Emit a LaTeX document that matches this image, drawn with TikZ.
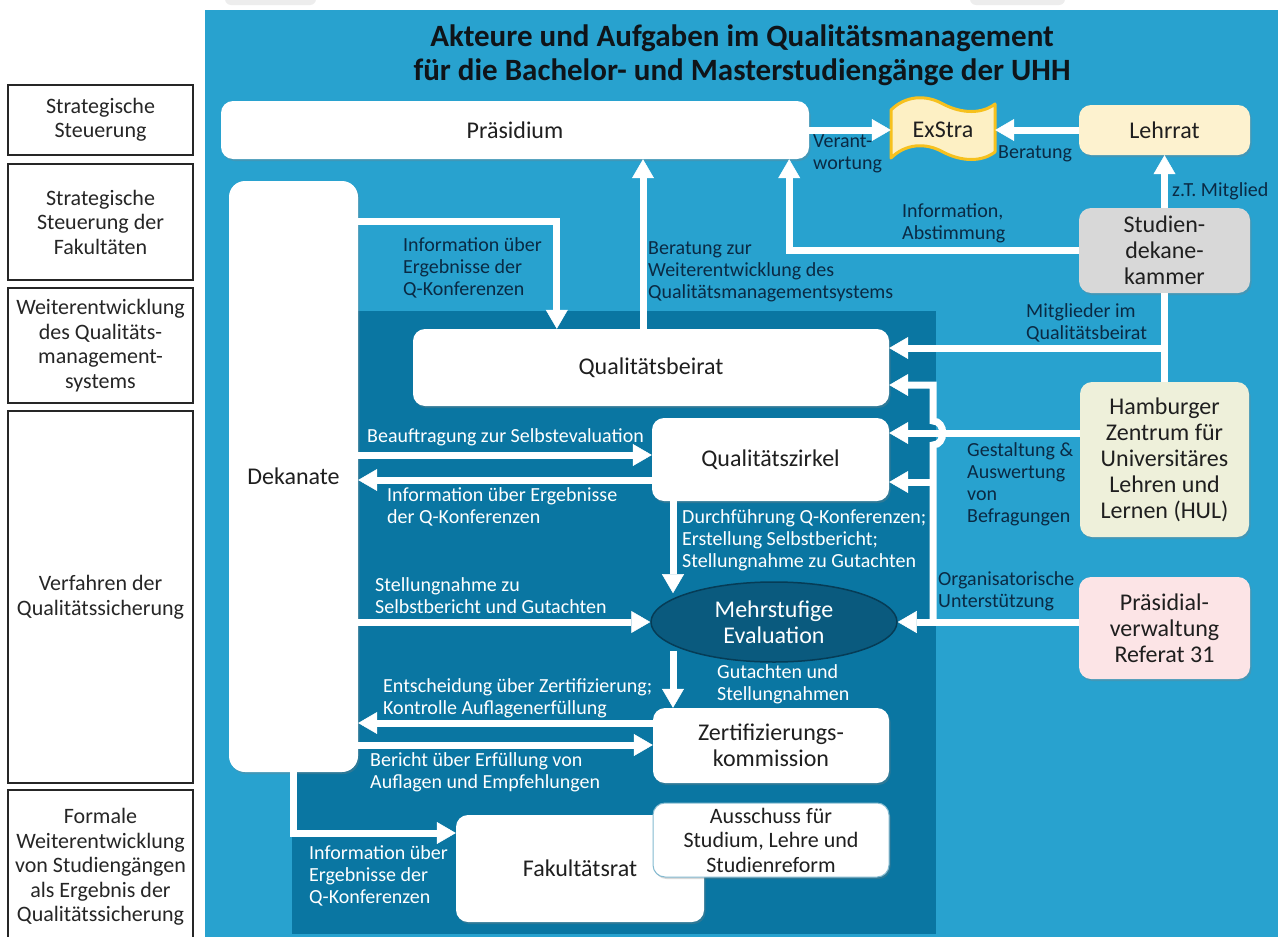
\documentclass[tikz,border=0pt]{standalone}
\usepackage{fontspec}
\setmainfont{Carlito}
\usetikzlibrary{arrows.meta,shadows,shapes.geometric}
\definecolor{lightp}{RGB}{40,162,207}
\definecolor{darkp}{RGB}{10,118,162}
\definecolor{evalc}{RGB}{10,90,126}
\definecolor{evalb}{RGB}{6,60,86}
\definecolor{navyt}{RGB}{10,42,68}
\definecolor{lehrc}{RGB}{253,242,207}
\definecolor{sdkc}{RGB}{216,216,216}
\definecolor{hulc}{RGB}{238,240,218}
\definecolor{pvc}{RGB}{252,228,230}
\definecolor{exfill}{RGB}{253,240,196}
\definecolor{exborder}{RGB}{246,193,30}
\definecolor{titlec}{RGB}{15,20,25}
\newcommand{\mynodefont}{\fontsize{24}{26}\selectfont}
\newcommand{\myausfont}{\fontsize{22}{24.5}\selectfont}
\newcommand{\mylabelfont}{\fontsize{20}{22}\selectfont}
\newcommand{\mysidefont}{\fontsize{22}{24.5}\selectfont}
\newcommand{\mytitlefont}{\fontsize{31}{34}\selectfont\bfseries}
\begin{document}
\begin{tikzpicture}[x=1pt,y=-1pt,
  box/.style={fill=white, rounded corners=12pt, font=\mynodefont, align=center,
    text=black!88, inner sep=2pt,
    drop shadow={opacity=0.3, shadow xshift=1.5pt, shadow yshift=-2pt}},
  sidebox/.style={draw=black!85, line width=1.6pt, fill=white, align=center,
    font=\mysidefont, text=black!85, minimum width=185pt, inner sep=0pt},
  warrow/.style={draw=white, line width=7pt,
    -{Triangle[width=22pt,length=19pt,line width=0.5pt]}},
  wline/.style={draw=white, line width=7pt},
  wlab/.style={anchor=west, align=left, inner sep=0pt, font=\mylabelfont, text=white},
  dlab/.style={wlab, text=navyt},
]
\useasboundingbox (0,0) rectangle (1278,937);
\fill[white] (0,0) rectangle (1278,937);
\fill[black!7, rounded corners=6pt] (225,-10) rectangle (316,5);
\fill[black!7, rounded corners=6pt] (970,-10) rectangle (1065,5);
\fill[lightp] (205,10) rectangle (1290,950);
\fill[darkp] (292,311) rectangle (936,934);

% title
\node[font=\mytitlefont, text=titlec] (t1) at (742,38) {Akteure und Aufgaben im Qualitätsmanagement};
\node[font=\mytitlefont, text=titlec] (t2) at (742,72) {für die Bachelor- und Masterstudiengänge der UHH};

% side labels
\node[sidebox, minimum height=70pt] (s1) at (100.5,120) {Strategische\\Steuerung};
\node[sidebox, minimum height=116pt] (s2) at (100.5,222) {Strategische\\Steuerung der\\Fakultäten};
\node[sidebox, minimum height=115pt] (s3) at (100.5,345.5) {Weiterentwicklung\\des Qualitäts-\\management-\\systems};
\node[sidebox, minimum height=372pt] (s4) at (100.5,597) {Verfahren der\\Qualitätssicherung};
\node[sidebox, minimum height=154pt] (s5) at (100.5,867) {Formale\\Weiterentwicklung\\von Studiengängen\\als Ergebnis der\\Qualitätssicherung};

% ExStra banner
\draw[fill=exfill, draw=exborder, line width=3pt, line join=round]
  (891,110) .. controls (905,96) and (925,94) .. (943,104)
  .. controls (962,114) and (982,114) .. (995,104) -- (995,152)
  .. controls (982,162) and (962,162) .. (943,152)
  .. controls (925,142) and (905,144) .. (891,158) -- cycle;
\node[font=\mynodefont, text=black!88, minimum width=104pt, minimum height=48pt, inner sep=0pt] (ex) at (943,130) {ExStra};

% main nodes
\node[box, minimum width=588pt, minimum height=58pt] (praes) at (515,130) {Präsidium};
\node[box, fill=lehrc, minimum width=171pt, minimum height=50pt] (lehr) at (1164.5,130) {Lehrrat};
\node[box, fill=sdkc, minimum width=171pt, minimum height=85pt] (sdk) at (1164.5,250.5) {Studien-\\dekane-\\kammer};
\node[box, rounded corners=16pt, minimum width=129pt, minimum height=591pt] (dek) at (293.5,476.5) {Dekanate};
\node[box, minimum width=476pt, minimum height=77pt] (qb) at (651,367.5) {Qualitätsbeirat};
\node[box, minimum width=237pt, minimum height=83pt] (qz) at (770.5,459.5) {Qualitätszirkel};
\node[ellipse, fill=evalc, draw=evalb, line width=1.5pt, minimum width=246pt, minimum height=80pt,
  text=white, font=\mynodefont, align=center, inner sep=0pt] (me) at (774,622) {Mehrstufige\\Evaluation};
\node[box, minimum width=236pt, minimum height=75pt] (zk) at (771,745.5) {Zertifizierungs-\\kommission};
\node[box, minimum width=248pt, minimum height=107pt] (fak) at (580,868.5) {Fakultätsrat};
\node[box, draw=darkp!50, line width=1pt, font=\myausfont, minimum width=236pt, minimum height=74pt] (aus) at (771,840) {Ausschuss für\\Studium, Lehre und\\Studienreform};
\node[box, fill=hulc, minimum width=169pt, minimum height=155pt] (hul) at (1164.5,459.5) {Hamburger\\Zentrum für\\Universitäres\\Lehren und\\Lernen (HUL)};
\node[box, fill=pvc, minimum width=171pt, minimum height=102pt] (pv) at (1164.5,628) {Präsidial-\\verwaltung\\Referat 31};

% helper coordinates
\coordinate (vx) at (933,0);
\coordinate (vq) at (673,0);
\coordinate (h348) at (0,348);
\coordinate (h385) at (0,385);
\coordinate (h421) at (0,421);
\coordinate (h433) at (0,433);
\coordinate (h445) at (0,445);
\coordinate (h455) at (0,455);
\coordinate (h480) at (0,480);
\coordinate (h482) at (0,482);
\coordinate (h723) at (0,723);
\coordinate (h745) at (0,745);
\coordinate (h833) at (0,833);

% connectors
\draw[warrow] (praes.east) -- (ex.west);
\draw[warrow] (lehr.west) -- (ex.east);
\draw[warrow] (sdk.north) -- (lehr.south);
\draw[warrow] (sdk.west) -| ([xshift=-20pt]praes.south east);
\draw[warrow] ([xshift=-8pt]qb.north) -- ([xshift=-8pt]qb.north |- praes.south);
\draw[warrow] ([yshift=-41pt]dek.north east) -| ([xshift=144pt]qb.north west);
\draw[warrow] (dek.east |- h455) -- (qz.west |- h455);
\draw[warrow] (qz.west |- h480) -- (dek.east |- h480);
\draw[warrow] (qz.south -| vq) -- (me.north west -| vq);
\draw[warrow] (dek.east |- me.west) -- (me.west);
\draw[warrow] (pv.west |- me.east) -- (me.east);
\draw[warrow] (me.east -| vx) -- (vx |- h445) .. controls +(13,0) and +(13,0) .. (vx |- h421) -- (vx |- h385) -- (qb.east |- h385);
\draw[warrow] (vx |- h482) -- (qz.east |- h482);
\draw[warrow] (hul.west |- h433) -- (qz.east |- h433);
\draw[wline] (sdk.south) -- (hul.north);
\draw[warrow] (sdk.south |- h348) -- (qb.east |- h348);
\draw[warrow] (me.south west -| vq) -- (zk.north -| vq);
\draw[warrow] (zk.west |- h723) -- (dek.east |- h723);
\draw[warrow] (dek.east |- h745) -- (zk.west |- h745);
\draw[warrow] (dek.south) |- (fak.west |- h833);

% labels
\node[dlab] (l1) at (813,154) {Verant-\\wortung};
\node[dlab] (l2) at (998,154) {Beratung};
\node[dlab] (l3) at (1172,191) {z.T. Mitglied};
\node[dlab] (l4) at (902,223) {Information,\\Abstimmung};
\node[dlab] (l5) at (648,272) {Beratung zur\\Weiterentwicklung des\\Qualitätsmanagementsystems};
\node[dlab] (l6) at (403,268) {Information über\\Ergebnisse der\\Q-Konferenzen};
\node[dlab] (l7) at (1026,323) {Mitglieder im\\Qualitätsbeirat};
\node[wlab] (l8) at (367,437) {Beauftragung zur Selbstevaluation};
\node[wlab] (l9) at (387,507) {Information über Ergebnisse\\der Q-Konferenzen};
\node[wlab] (l10) at (682,540) {Durchführung Q-Konferenzen;\\Erstellung Selbstbericht;\\Stellungnahme zu Gutachten};
\node[dlab] (l11) at (967,484) {Gestaltung \&\\Auswertung\\von\\Befragungen};
\node[wlab] (l12) at (375,596) {Stellungnahme zu\\Selbstbericht und Gutachten};
\node[dlab] (l13) at (938,591) {Organisatorische\\Unterstützung};
\node[wlab] (l14) at (717,684) {Gutachten und\\Stellungnahmen};
\node[wlab] (l15) at (383,698) {Entscheidung über Zertifizierung;\\Kontrolle Auflagenerfüllung};
\node[wlab] (l16) at (370,772) {Bericht über Erfüllung von\\Auflagen und Empfehlungen};
\node[wlab] (l17) at (309,876) {Information über\\Ergebnisse der\\Q-Konferenzen};
\end{tikzpicture}
\end{document}
